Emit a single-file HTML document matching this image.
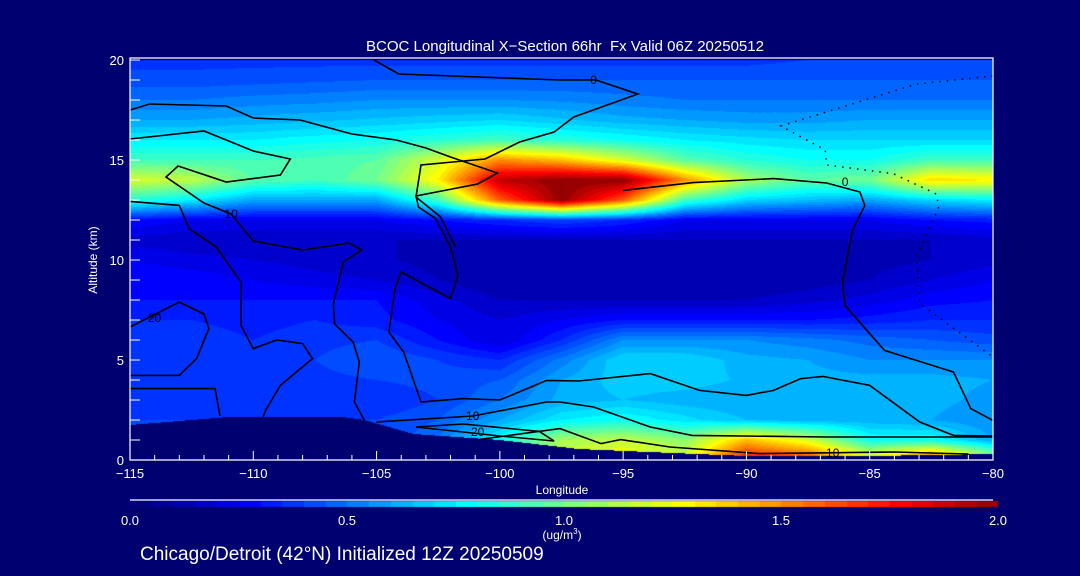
<!DOCTYPE html>
<html><head><meta charset="utf-8">
<style>
html,body{margin:0;padding:0;background:#000070;}
body{width:1080px;height:576px;position:relative;overflow:hidden;font-family:"Liberation Sans",sans-serif;color:#fff;}
#field{position:absolute;left:0;top:0;}
svg{position:absolute;left:0;top:0;}
</style></head>
<body>
<canvas id="field" width="1080" height="576"></canvas>
<svg id="chart" width="1080" height="576"></svg>
<script>
// ---- data ----
const lons = [-115,-112.5,-110,-107.5,-105,-102.5,-100,-97.5,-95,-92.5,-90,-87.5,-85,-82.5,-80];
const alts = [0,1,2,3,4,5,6,7,8,9,10,11,12,13,14,15,16,17,18,19,20];
// rows by altitude (0 km first), BCOC ug/m3
const bcoc = [
 [0.4,0.4,0.4,0.4,0.4,0.5,0.8,1.2,1.3,1.2,1.8,1.7,1.3,1.7,1.2],
 [0.4,0.4,0.4,0.4,0.4,0.5,0.8,1.1,1.15,1.05,1.4,1.2,0.8,0.8,0.6],
 [0.4,0.4,0.4,0.4,0.4,0.45,0.6,0.75,0.8,0.72,0.65,0.62,0.62,0.6,0.55],
 [0.35,0.38,0.35,0.35,0.35,0.4,0.5,0.62,0.65,0.62,0.6,0.6,0.62,0.62,0.58],
 [0.35,0.35,0.35,0.38,0.4,0.42,0.45,0.6,0.68,0.68,0.64,0.62,0.62,0.62,0.6],
 [0.4,0.38,0.35,0.4,0.45,0.4,0.35,0.52,0.7,0.7,0.62,0.6,0.55,0.55,0.55],
 [0.4,0.38,0.35,0.38,0.4,0.3,0.2,0.35,0.55,0.55,0.55,0.52,0.48,0.45,0.42],
 [0.35,0.35,0.33,0.35,0.32,0.25,0.2,0.25,0.3,0.3,0.3,0.3,0.32,0.35,0.35],
 [0.3,0.3,0.3,0.3,0.3,0.22,0.15,0.15,0.15,0.15,0.15,0.18,0.22,0.28,0.3],
 [0.3,0.28,0.25,0.22,0.2,0.15,0.1,0.1,0.1,0.1,0.1,0.12,0.15,0.2,0.25],
 [0.25,0.22,0.2,0.18,0.16,0.13,0.12,0.12,0.12,0.12,0.12,0.12,0.13,0.15,0.18],
 [0.18,0.16,0.15,0.15,0.15,0.15,0.15,0.15,0.15,0.15,0.15,0.15,0.15,0.15,0.18],
 [0.3,0.25,0.25,0.25,0.25,0.3,0.35,0.4,0.35,0.25,0.25,0.25,0.25,0.3,0.32],
 [0.85,0.75,0.6,0.6,0.6,0.9,1.6,2.0,1.6,0.9,0.7,0.65,0.6,0.7,0.75],
 [1.2,1.15,0.95,0.9,1.0,1.3,1.9,2.0,2.0,1.5,1.1,0.95,1.0,1.35,1.3],
 [0.9,0.9,0.9,0.92,0.95,1.2,1.5,1.4,1.2,0.95,0.85,0.8,0.8,0.9,0.9],
 [0.75,0.75,0.75,0.78,0.8,0.85,0.9,0.85,0.8,0.75,0.72,0.7,0.7,0.7,0.7],
 [0.6,0.6,0.62,0.64,0.66,0.68,0.7,0.66,0.62,0.6,0.58,0.58,0.6,0.6,0.6],
 [0.5,0.5,0.52,0.53,0.55,0.55,0.55,0.54,0.52,0.5,0.5,0.5,0.5,0.5,0.5],
 [0.42,0.42,0.43,0.44,0.45,0.45,0.45,0.45,0.45,0.45,0.45,0.45,0.45,0.45,0.45],
 [0.38,0.38,0.38,0.38,0.38,0.38,0.38,0.38,0.38,0.38,0.38,0.4,0.4,0.4,0.4]
];
const terrainLon = [-115,-111,-106.4,-105.5,-103.5,-100,-96.8,-93,-90,-85,-80];
const terrainAlt = [1.75,2.15,2.15,2.0,1.3,1.0,0.55,0.35,0.2,0.2,0.3];
const xTicks = [-115,-110,-105,-100,-95,-90,-85,-80];
const yTicks = [0,5,10,15,20];
const cbTicks = [0.0,0.5,1.0,1.5,2.0];
// contour lines: [lon,alt] pairs, label, dotted
const contours = [
 {pts:[[-105.1,20],[-104.1,19.3],[-97.6,19.0],[-96.1,19.0],[-94.4,18.3],[-97.0,17.15],[-97.8,16.4],[-99.2,15.9],[-100.6,15.05],[-103.2,14.75],[-103.4,13.15],[-102.4,12.15],[-101.8,10.65]],label:"0",at:[-96.2,19.0],dot:false},
 {pts:[[-115,17.5],[-114.2,17.8],[-111.1,17.7],[-110,17.1],[-108.1,17.0],[-106,16.3],[-104.2,16.0],[-103,15.6],[-102,15.15],[-100.1,14.35],[-100.9,13.8],[-103.4,13.2],[-103.3,12.65],[-102.6,12.07],[-102,10.65],[-101.7,9.23],[-102,8.07],[-104,9.4],[-104.25,8.57],[-104.5,6.4],[-103.9,5.4],[-103.2,2.9],[-101.5,3.07],[-100,3.0],[-98.1,3.98],[-96.8,3.95],[-93.9,4.32],[-91.9,3.48],[-90,3.23],[-88.9,3.48],[-87.8,4.07],[-86.9,4.18],[-85,3.73],[-82.97,1.9],[-81.6,1.23],[-80,1.2]],label:null,dot:false},
 {pts:[[-115,16.05],[-112,16.45],[-110,15.45],[-108.5,15.05],[-108.9,14.25],[-111.1,13.9],[-113.05,14.7],[-113.54,14.15],[-112,12.85],[-110.9,12.3],[-110,10.95],[-108,10.5],[-106.1,10.85],[-105.6,10.5],[-106.35,9.9],[-106.75,7.8],[-106.7,6.8],[-105.95,5.9],[-105.7,4.9],[-105.9,2.9],[-105.5,2.0]],label:"10",at:[-110.9,12.3],dot:false},
 {pts:[[-115,12.93],[-113,12.73],[-112.6,11.57],[-111.5,10.65],[-110.5,8.9],[-110.5,6.73],[-110,5.57],[-109.05,6.0],[-108,5.82],[-107.6,5.07],[-108.9,3.73],[-109.5,2.48],[-109.6,2.15]],label:null,dot:false},
 {pts:[[-115,6.65],[-113,7.9],[-112,7.3],[-111.8,6.57],[-112.3,5.07],[-113,4.23],[-115,4.23]],label:"20",at:[-114,7.1],dot:false},
 {pts:[[-115,3.57],[-111.55,3.57],[-111.35,2.2]],label:null,dot:false},
 {pts:[[-95,13.48],[-92.15,13.87],[-88.9,14.07],[-86.75,13.85],[-85.4,13.4],[-85.2,12.73],[-85.7,11.48],[-86.1,8.9],[-86,7.73],[-84.4,5.48],[-81.6,4.4],[-80.9,2.57],[-80,1.98]],label:"0",at:[-86.0,13.9],dot:false},
 {pts:[[-105,1.9],[-101.1,2.2],[-98.1,2.9],[-97.56,2.9],[-96.2,2.65],[-93.9,1.65],[-92.2,1.23],[-86.75,1.15],[-80,1.15]],label:"10",at:[-101.1,2.2],dot:false},
 {pts:[[-103.4,1.65],[-101.5,1.8],[-98.4,1.43],[-97.8,0.95],[-100,1.2],[-103.4,1.65]],label:"20",at:[-100.9,1.4],dot:false},
 {pts:[[-101,1.0],[-97.56,1.57],[-95.9,0.82],[-95.1,1.02],[-93.1,0.65],[-89.5,0.32],[-84.0,0.4],[-81,0.3]],label:"10",at:[-86.5,0.35],dot:false},
 {pts:[[-80,19.2],[-83.1,18.8],[-88.6,16.7],[-86.8,15.5],[-86.75,14.75],[-84.05,14.32],[-82.3,13.3],[-82.2,12.65],[-83.1,10.15],[-82.97,7.82],[-80,5.15]],label:null,dot:true}
];
// ---- axes ----
const X0=130,X1=993,Y0=460,Y1=60;
const xs=l=>X0+(l+115)/35*(X1-X0);
const ys=a=>Y0-a/20*(Y0-Y1);
function jet(v){
  let t=Math.max(0,Math.min(1,v/2));
  t=Math.floor(t*40)/40;
  const c=x=>Math.max(0,Math.min(1,x));
  const r=c(1.5-Math.abs(4*t-3)), g=c(1.5-Math.abs(4*t-2)), b=c(1.5-Math.abs(4*t-1));
  return [Math.round(r*255),Math.round(g*255),Math.round(b*255)];
}
function sample(lon,alt){
  let fi=(lon-lons[0])/2.5, fj=alt;
  fi=Math.max(0,Math.min(lons.length-1.001,fi)); fj=Math.max(0,Math.min(alts.length-1.001,fj));
  const i=Math.floor(fi),j=Math.floor(fj),u=fi-i,w=fj-j;
  return bcoc[j][i]*(1-u)*(1-w)+bcoc[j][i+1]*u*(1-w)+bcoc[j+1][i]*(1-u)*w+bcoc[j+1][i+1]*u*w;
}
function terr(lon){
  for(let k=0;k<terrainLon.length-1;k++){
    if(lon<=terrainLon[k+1]){const u=(lon-terrainLon[k])/(terrainLon[k+1]-terrainLon[k]);return terrainAlt[k]*(1-u)+terrainAlt[k+1]*u;}
  }
  return terrainAlt[terrainAlt.length-1];
}
const cv=document.getElementById('field'),ctx=cv.getContext('2d');
const img=ctx.createImageData(X1-X0,Y0-Y1);
for(let py=0;py<Y0-Y1;py++){
  const alt=(Y0-Y1-py-0.5)/(Y0-Y1)*20;
  for(let px=0;px<X1-X0;px++){
    const lon=-115+(px+0.5)/(X1-X0)*35;
    let col = alt<terr(lon)?[0,0,112]:jet(sample(lon,alt));
    const o=(py*(X1-X0)+px)*4;
    img.data[o]=col[0];img.data[o+1]=col[1];img.data[o+2]=col[2];img.data[o+3]=255;
  }
}
ctx.putImageData(img,X0,Y1);
// colorbar
for(let px=130;px<998;px++){
  const c=jet((px-130)/(998-130)*2);
  ctx.fillStyle='rgb('+c.join(',')+')';ctx.fillRect(px,501,1,6);
}
const svg=document.getElementById('chart');const NS='http://www.w3.org/2000/svg';
function mk(tag,attrs,parent){const e=document.createElementNS(NS,tag);for(const k in attrs)e.setAttribute(k,attrs[k]);(parent||svg).appendChild(e);return e;}
// contours
const cg=mk('g',{});


contours.forEach(c=>{
  const p=mk('polyline',{points:c.pts.map(q=>xs(q[0]).toFixed(1)+','+ys(q[1]).toFixed(1)).join(' '),fill:'none',stroke:'#000','stroke-width':c.dot?1.5:1.6,'stroke-dasharray':c.dot?'1.5,6':'none'},cg);
  
  
  if(c.label){
    const t=mk('text',{x:xs(c.at[0]),y:ys(c.at[1])+4,fill:'#000','font-size':12,'text-anchor':'middle'},cg);
    
    
    t.textContent=c.label;
  }
});
// frame
const fr=mk('path',{d:`M${X0},${Y1-2}H${X1}V${Y0}H${X0}Z`,fill:'none',stroke:'#fff','stroke-width':1.2});


// x ticks
for(let l=-115;l<=-80;l++){
  const major=(l%5===0);
  const tk=mk('line',{x1:xs(l),x2:xs(l),y1:Y0,y2:Y0-(major?9:5),stroke:'#fff','stroke-width':1});
  
  
}
xTicks.forEach(l=>{
  const t=mk('text',{x:xs(l),y:478,fill:'#fff','font-size':13,'text-anchor':'middle'});
  
  
  t.textContent=(l<0?'\u2212'+(-l):l);
});
for(let a=0;a<=20;a++){
  const tk=mk('line',{x1:X0,x2:X0+10,y1:ys(a),y2:ys(a),stroke:'#fff','stroke-width':1});
  
  
}
yTicks.forEach(a=>{
  const t=mk('text',{x:124,y:ys(a)+5,fill:'#fff','font-size':13,'text-anchor':'end'});
  
  
  t.textContent=a;
});
// colorbar line & labels
const cbl=mk('line',{x1:130,x2:993,y1:500,y2:500,stroke:'#fff','stroke-width':1.2});


cbTicks.forEach(v=>{
  const t=mk('text',{x:130+v/2*(998-130),y:525,fill:'#fff','font-size':13,'text-anchor':'middle'});
  
  
  t.textContent=v.toFixed(1);
});
</script>
<svg width="1080" height="576" style="position:absolute;left:0;top:0">
<text x="565" y="51" fill="#fff" font-size="15" text-anchor="middle" font-family="Liberation Sans" xml:space="preserve">BCOC Longitudinal X−Section 66hr  Fx Valid 06Z 20250512</text>
<text x="97" y="260" fill="#fff" font-size="12" text-anchor="middle" transform="rotate(-90 97 260)" font-family="Liberation Sans">Altitude (km)</text>
<text x="562" y="494" fill="#fff" font-size="12" text-anchor="middle" font-family="Liberation Sans">Longitude</text>
<text x="562" y="539" fill="#fff" font-size="12" text-anchor="middle" font-family="Liberation Sans">(ug/m<tspan font-size="8" dy="-5">3</tspan><tspan dy="5">)</tspan></text>
<text x="140" y="560" fill="#fff" font-size="19" font-family="Liberation Sans">Chicago/Detroit (42°N) Initialized 12Z 20250509</text>
</svg>
</body></html>
